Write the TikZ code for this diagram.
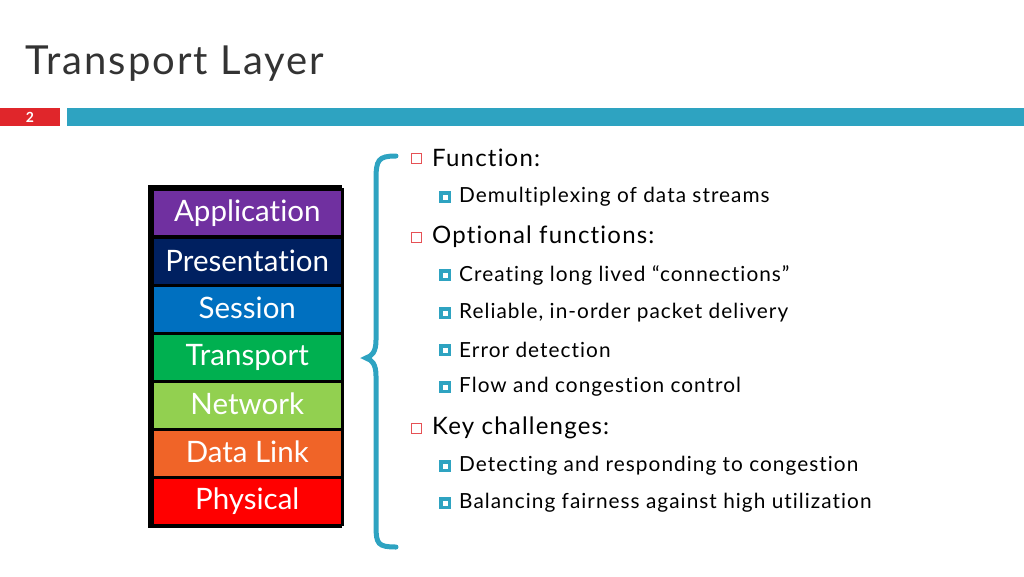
\documentclass[tikz,border=0pt]{standalone}
\usepackage{fontspec}
\setmainfont{Lato}[Ligatures=NoCommon,LetterSpace=5]
\newfontfamily\layerfont{Lato}[Ligatures=NoCommon]
\definecolor{teal1}{HTML}{2EA3C1}
\definecolor{red1}{HTML}{E0262B}
\begin{document}
\begin{tikzpicture}[x=1pt,y=-1pt,
  layer/.style={draw=black,line width=2.5pt,minimum width=190pt,minimum height=47pt,anchor=north west,text=white,font=\layerfont\fontsize{29.5}{30}\selectfont,inner sep=0pt},
  main/.style={anchor=west,font=\fontsize{24}{24}\selectfont,inner sep=0pt},
  sub/.style={anchor=west,font=\fontsize{20.8}{21}\selectfont,inner sep=0pt}]
\useasboundingbox (0,0) rectangle (1024,576);
\node[anchor=west,font=\fontsize{40}{40}\selectfont,text=black!80,inner sep=0pt] (title) at (25,64) {Transport Layer};
\fill[red1] (0,108) rectangle (60,126);
\node[text=white,font=\bfseries\fontsize{14}{14}\selectfont] (num) at (30,117) {2};
\fill[teal1] (67,108) rectangle (1024,126);
\fill[black] (148,185) rectangle (342,528);
\node[layer,fill={rgb,255:red,112;green,48;blue,160}] (app) at (151,188) {Application};
\node[layer,fill={rgb,255:red,0;green,32;blue,96}] (pre) at (151,236.5) {Presentation};
\node[layer,fill={rgb,255:red,0;green,112;blue,192}] (ses) at (151,284.5) {\raisebox{4pt}{Session}};
\node[layer,fill={rgb,255:red,0;green,176;blue,80}] (tra) at (151,332.5) {Transport};
\node[layer,fill={rgb,255:red,146;green,208;blue,80}] (net) at (151,380.5) {\raisebox{3pt}{Network}};
\node[layer,fill={rgb,255:red,240;green,100;blue,40}] (dl) at (151,428.5) {\raisebox{3pt}{Data Link}};
\node[layer,fill={rgb,255:red,255;green,0;blue,0}] (phy) at (151,476.5) {\raisebox{3pt}{Physical}};
\draw[teal1,line width=5pt,line cap=round] (396,156) .. controls (378,156) and (376,160) .. (376,180) -- (376,340) .. controls (376,352) and (372,356) .. (366,358) .. controls (372,360) and (376,364) .. (376,376) -- (376,526) .. controls (376,544) and (378,547) .. (396,547);
\foreach \y/\t [count=\i] in {158/Function:,237/Optional functions:,428/Key challenges:}{
  \draw[red1!80,line width=0.9pt] (411,\y-5) rectangle (421,\y+5);
  \node[main] (m\i) at (432,\y) {\t};
}
\foreach \y/\t [count=\i] in {197/Demultiplexing of data streams,275/Creating long lived “connections”,313/{Reliable, in-order packet delivery},350/Error detection,387/Flow and congestion control,466/Detecting and responding to congestion,503/Balancing fairness against high utilization}{
  \fill[teal1] (439,\y-6) rectangle (451,\y+6);
  \fill[white] (442.5,\y-2.5) rectangle (447.5,\y+2.5);
  \node[sub] (s\i) at (459,\y) {\t};
}
\end{tikzpicture}
\end{document}
